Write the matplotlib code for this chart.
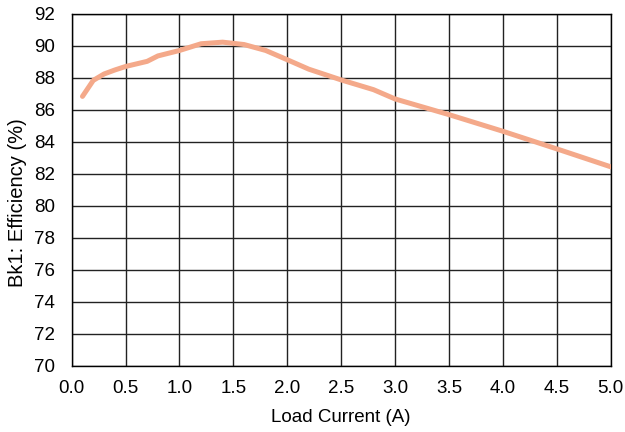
import numpy as np
import matplotlib.pyplot as plt

plt.rcParams['font.family'] = ['Liberation Sans', 'DejaVu Sans']

# load current (A) and efficiency (%)
current = [0.1, 0.2, 0.3, 0.4, 0.5, 0.7, 0.8, 1.0, 1.2, 1.4, 1.6, 1.8,
           2.0, 2.2, 2.5, 2.8, 3.0, 3.5, 4.0, 4.5, 5.0]
efficiency = [86.85, 87.85, 88.25, 88.5, 88.72, 89.04, 89.38, 89.72, 90.14,
              90.24, 90.09, 89.72, 89.14, 88.55, 87.88, 87.27, 86.69, 85.71,
              84.67, 83.57, 82.45]

xticks = np.arange(0, 5.01, 0.5)
yticks = np.arange(70, 92.1, 2)

fig = plt.figure(figsize=(6.25, 4.32), dpi=100)
ax = fig.add_axes([0.1147, 0.1528, 0.8624, 0.8148])

ax.plot(current, efficiency, color='#F4A98A', lw=3.6, solid_capstyle='round',
        solid_joinstyle='round', zorder=3)

ax.set_xlim(0, 5)
ax.set_ylim(70, 92)
ax.set_xticks(xticks)
ax.set_yticks(yticks)
ax.set_xticklabels(['%.1f' % v for v in xticks])
ax.set_yticklabels(['%d' % v for v in yticks])
ax.grid(True, color='#222222', lw=1.0)
ax.tick_params(length=0, labelsize=13.5)
ax.tick_params(axis='x', pad=10)
ax.tick_params(axis='y', pad=12)
for s in ax.spines.values():
    s.set_color('black')
    s.set_linewidth(1.0)

ax.set_xlabel('Load Current (A)', fontsize=13.5, labelpad=9)
ax.set_ylabel('Bk1: Efficiency (%)', fontsize=14.5, labelpad=5)
ax.yaxis.set_label_coords(-0.083, 0.465)

fig.savefig('out.png', dpi=100)
